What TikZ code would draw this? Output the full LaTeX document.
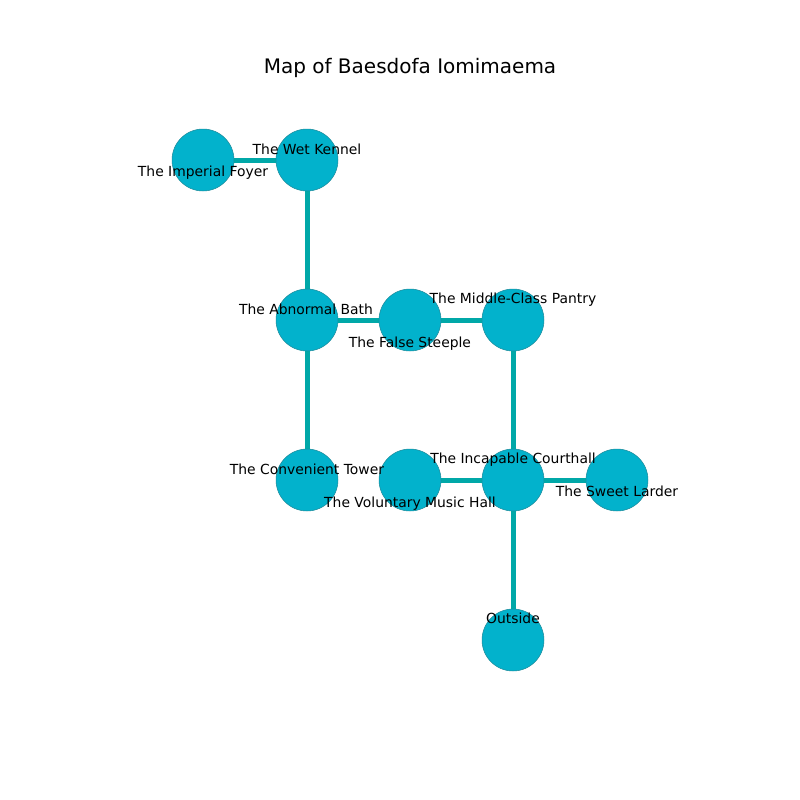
\documentclass[tikz,border=0pt]{standalone}
\usepackage{fontspec}
\setmainfont{DejaVu Sans}
\begin{document}
\begin{tikzpicture}[x=0.72bp,y=-0.72bp,
  room/.style={circle,fill=roomfill,draw=roomedge,line width=0.4bp,minimum size=44.6bp,inner sep=0pt},
  passage/.style={draw=passagecol,line width=3.6bp},
  tag/.style={font=\fontsize{10bp}{12bp}\selectfont,text=black,inner sep=0pt,text height=7.6bp,text depth=2.4bp,yshift=-1bp}]
\definecolor{roomfill}{HTML}{02B2CC}
\definecolor{roomedge}{HTML}{1C8C9C}
\definecolor{passagecol}{HTML}{00A8A8}
\useasboundingbox (0,0) rectangle (800,800);
\fill[white] (0,0) rectangle (800,800);
\node[font=\fontsize{14.4bp}{17bp}\selectfont,inner sep=0pt,text height=11bp,text depth=3.4bp] (title) at (410,68.5) {Map of Baesdofa Iomimaema};
% rooms
\coordinate (pfoyer) at (203,160);
\coordinate (pkennel) at (307,160);
\coordinate (pbath) at (307,320);
\coordinate (psteeple) at (410,320);
\coordinate (ppantry) at (513,320);
\coordinate (ptower) at (307,480);
\coordinate (pmusic) at (410,480);
\coordinate (pcourt) at (513,480);
\coordinate (plarder) at (617,480);
\coordinate (poutside) at (513,640);
% passages
\draw[passage] (pfoyer) -- (pkennel);
\draw[passage] (pkennel) -- (pbath);
\draw[passage] (pbath) -- (psteeple);
\draw[passage] (psteeple) -- (ppantry);
\draw[passage] (pbath) -- (ptower);
\draw[passage] (ppantry) -- (pcourt);
\draw[passage] (pmusic) -- (pcourt);
\draw[passage] (pcourt) -- (plarder);
\draw[passage] (pcourt) -- (poutside);
% room discs
\node[room] (foyer) at (pfoyer) {};
\node[room] (kennel) at (pkennel) {};
\node[room] (bath) at (pbath) {};
\node[room] (steeple) at (psteeple) {};
\node[room] (pantry) at (ppantry) {};
\node[room] (tower) at (ptower) {};
\node[room] (music) at (pmusic) {};
\node[room] (court) at (pcourt) {};
\node[room] (larder) at (plarder) {};
\node[room] (outside) at (poutside) {};
% room names
\node[tag] (lfoyer) at (203,171) {The Imperial Foyer};
\node[tag] (lkennel) at (307,149) {The Wet Kennel};
\node[tag] (lbath) at (306,309) {The Abnormal Bath};
\node[tag] (lsteeple) at (410,342) {The False Steeple};
\node[tag] (lpantry) at (513,298) {The Middle-Class Pantry};
\node[tag] (ltower) at (307,469) {The Convenient Tower};
\node[tag] (lmusic) at (410,502) {The Voluntary Music Hall};
\node[tag] (lcourt) at (513,458) {The Incapable Courthall};
\node[tag] (llarder) at (617,491) {The Sweet Larder};
\node[tag] (loutside) at (513,618) {Outside};
\end{tikzpicture}
\end{document}
